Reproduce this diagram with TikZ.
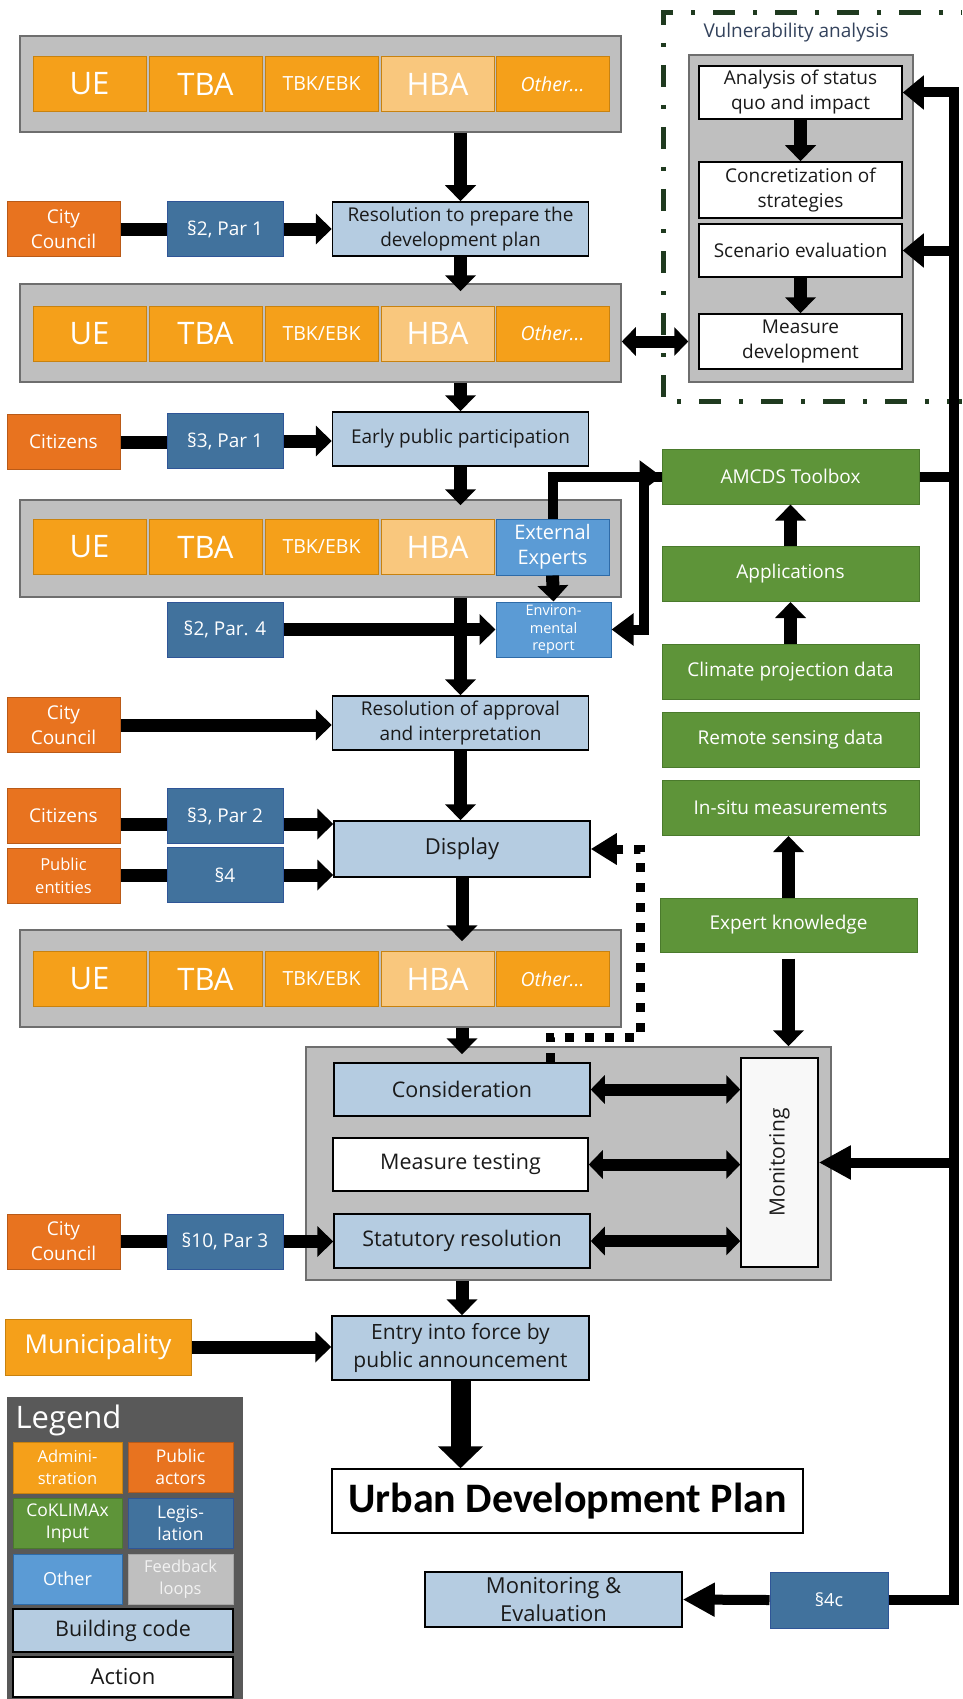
\documentclass[tikz,border=0pt]{standalone}
\usepackage{fontspec}
\setmainfont{Open Sans}
\newfontfamily\calib{Carlito}
\usetikzlibrary{arrows.meta,calc}
\newcommand{\myfs}[2]{\fontsize{#1}{#2}\selectfont}
\definecolor{admC}{HTML}{F5A01A}
\definecolor{admD}{HTML}{C8820F}
\definecolor{hbaC}{HTML}{F9C77D}
\definecolor{pubC}{HTML}{E8731F}
\definecolor{pubD}{HTML}{B95A18}
\definecolor{legC}{HTML}{41729D}
\definecolor{legD}{HTML}{2F5597}
\definecolor{othC}{HTML}{5B9BD5}
\definecolor{othD}{HTML}{2E6BA8}
\definecolor{grnC}{HTML}{5E9439}
\definecolor{grnD}{HTML}{4A7A2C}
\definecolor{bcC}{HTML}{B5CCE1}
\definecolor{grpC}{HTML}{BFBFBF}
\definecolor{grpD}{HTML}{6E6E6E}
\definecolor{lgdC}{HTML}{595959}
\definecolor{vulC}{HTML}{1F3A1F}
\definecolor{vtxt}{HTML}{33425C}
\definecolor{txt}{HTML}{1A1A1A}
\tikzset{
 base/.style={rectangle, inner sep=0pt, align=center, line width=1pt},
 adm/.style={base, fill=admC, draw=admD, text=white, minimum width=113pt, minimum height=55pt},
 hba/.style={adm, fill=hbaC},
 pubact/.style={base, fill=pubC, draw=pubD, text=white, minimum width=113pt, minimum height=55pt, font=\myfs{19}{25}},
 legis/.style={base, fill=legC, draw=legD, text=white, minimum width=116pt, minimum height=55pt, font=\myfs{19}{24}},
 bcode/.style={base, fill=bcC, draw=black, line width=1.5pt, text=txt, minimum width=256pt, minimum height=54pt, font=\myfs{19}{25}},
 action/.style={base, fill=white, draw=black, line width=1.5pt, text=txt},
 grn/.style={base, fill=grnC, draw=grnD, text=white, minimum width=257pt, minimum height=55pt, font=\myfs{19}{24}},
 othr/.style={base, fill=othC, draw=othD, text=white},
 grp/.style={base, fill=grpC, draw=grpD, line width=1.5pt},
 arr/.style={line width=13pt, -{Triangle[length=16pt,width=30pt]}},
 ln/.style={line width=13pt},
 dbl/.style={line width=12pt, {Triangle[length=14pt,width=28pt]}-{Triangle[length=14pt,width=28pt]}},
 fbl/.style={line width=10pt},
 fbarr/.style={line width=10pt, line join=miter, -{Triangle[length=21pt,width=33pt]}},
 bigarr/.style={line width=10pt, -{Triangle[length=32pt,width=32pt]}},
 thinarr/.style={line width=10pt, line join=miter, -{Triangle[length=22pt,width=31pt]}},
 dotarr/.style={line width=9pt, dash pattern=on 9pt off 11pt, -{Triangle[length=26pt,width=30pt]}},
}
\newcommand{\admrow}[2]{%
 \node[adm, font=\myfs{31}{36}] (#1a) at (89.5,#2) {UE};
 \node[adm, font=\myfs{31}{36}] (#1b) at (205.5,#2) {TBA};
 \node[adm, font=\myfs{19.5}{24}] (#1c) at (321.5,#2) {TBK/EBK};
 \node[hba, font=\myfs{31}{36}] (#1d) at (437.5,#2) {HBA};
}
\begin{document}
\begin{tikzpicture}[x=1pt,y=-1pt]
\useasboundingbox (0,0) rectangle (962,1699);
% vulnerability frame
\draw[vulC, line width=5pt, dash pattern=on 22pt off 18pt on 4pt off 18pt, dash phase=21pt] (962,13) -- (663,13) -- (663,401) -- (962,401);
\node[anchor=west, font=\myfs{19}{24}, text=vtxt] (vt) at (700,33) {Vulnerability analysis};
\node[grp, minimum width=224pt, minimum height=327pt] (vg) at (801,218.5) {};
\node[action, minimum width=203pt, minimum height=53pt, font=\myfs{19}{25}] (ana) at (800.5,92.5) {Analysis of status\\quo and impact};
\node[action, minimum width=203pt, minimum height=56pt, font=\myfs{19}{25}] (conc) at (800.5,190) {Concretization of\\strategies};
\node[action, minimum width=203pt, minimum height=53pt, font=\myfs{19}{25}] (scen) at (800.5,250.5) {Scenario evaluation};
\node[action, minimum width=203pt, minimum height=55pt, font=\myfs{19}{25}] (meas) at (800.5,341.5) {Measure\\development};
% admin groups
\node[grp, minimum width=601pt, minimum height=96pt] (g1) at (320.5,84) {};
\node[grp, minimum width=601pt, minimum height=98pt] (g2) at (320.5,333) {};
\node[grp, minimum width=601pt, minimum height=97pt] (g3) at (320.5,548.5) {};
\node[grp, minimum width=601pt, minimum height=97pt] (g4) at (320.5,978.5) {};
\admrow{ra}{84}
\node[adm, font=\myfs{19.5}{24}\itshape] (rae) at (552.5,84) {Other...};
\admrow{rb}{333.5}
\node[adm, font=\myfs{19.5}{24}\itshape] (rbe) at (552.5,333.5) {Other...};
\admrow{rc}{547}
\node[othr, minimum width=113pt, minimum height=56pt, font=\myfs{20}{25}] (ext) at (552.5,547) {External\\Experts};
\admrow{rd}{979}
\node[adm, font=\myfs{19.5}{24}\itshape] (rde) at (552.5,979) {Other...};
% public actors
\node[pubact] (cc1) at (63.5,229) {City\\Council};
\node[pubact] (cit1) at (63.5,442) {Citizens};
\node[pubact] (cc2) at (63.5,725) {City\\Council};
\node[pubact] (cit2) at (63.5,816) {Citizens};
\node[pubact, font=\myfs{16.5}{23}] (pe) at (63.5,875.5) {Public\\entities};
\node[pubact] (cc3) at (63.5,1241.5) {City\\Council};
\node[adm, minimum width=186pt, minimum height=56pt, font=\myfs{26}{30}] (muni) at (98,1347) {Municipality};
% legislation
\node[legis] (l1) at (225,229) {§2, Par 1};
\node[legis] (l2) at (225,441) {§3, Par 1};
\node[legis] (l3) at (225,629.5) {§2, Par. 4};
\node[legis] (l4) at (225,816) {§3, Par 2};
\node[legis] (l5) at (225,875) {§4};
\node[legis] (l6) at (225,1241.5) {§10, Par 3};
\node[legis, minimum width=118pt, minimum height=56pt, font=\myfs{18}{22}] (l7) at (829,1600) {§4c};
% building code steps
\node[bcode] (res1) at (460.5,229) {Resolution to prepare the\\development plan};
\node[bcode] (epp) at (460.5,439) {Early public participation};
\node[bcode] (roa) at (460.5,723) {Resolution of approval\\and interpretation};
\node[bcode, minimum height=56pt, font=\myfs{22}{27}] (disp) at (462,849) {Display};
\node[grp, minimum width=525pt, minimum height=233pt] (bg) at (568.5,1163.5) {};
\node[bcode, minimum height=53pt, font=\myfs{21.5}{27}] (cons) at (462,1089.5) {Consideration};
\node[action, minimum width=255pt, minimum height=53pt, font=\myfs{21.5}{27}] (mtest) at (460.5,1164.5) {Measure testing};
\node[bcode, font=\myfs{21.5}{27}] (stat) at (462,1241) {Statutory resolution};
\node[action, fill={rgb,255:red,248;green,248;blue,248}, minimum width=77pt, minimum height=209pt] (mon) at (779.5,1162.5) {};
\node[rotate=90, font=\myfs{21}{25}, text=txt] (monlab) at (mon.center) {Monitoring};
\node[bcode, minimum width=257pt, minimum height=64pt, font=\myfs{21}{28}] (entry) at (460.5,1348) {Entry into force by\\public announcement};
\node[action, minimum width=471pt, minimum height=64pt, font=\calib\bfseries\myfs{42}{48}, text=black] (udp) at (567.5,1501) {Urban Development Plan};
\node[bcode, minimum width=257pt, minimum height=55pt, font=\myfs{22}{28}] (me) at (553.5,1599.5) {Monitoring \&\\Evaluation};
% other
\node[othr, minimum width=115pt, minimum height=55pt, font=\myfs{14.5}{17.5}] (envrep) at (553.5,629.5) {Environ-\\mental\\report};
% green
\node[grn] (amcds) at (790.5,476.5) {AMCDS Toolbox};
\node[grn] (apps) at (790.5,574) {Applications};
\node[grn] (clim) at (790.5,672) {Climate projection data};
\node[grn] (rem) at (790.5,740) {Remote sensing data};
\node[grn] (insitu) at (790.5,808) {In-situ measurements};
\node[grn, minimum height=54pt] (expert) at (788.5,925) {Expert knowledge};
% legend
\node[base, fill=lgdC, minimum width=236pt, minimum height=302pt] (lgd) at (125,1548) {};
\node[anchor=west, text=white, font=\myfs{31}{36}] (lgdt) at (12,1420) {Legend};
\node[adm, minimum width=109pt, minimum height=51pt, font=\myfs{16.5}{22}] (la) at (67.5,1467.5) {Admini-\\stration};
\node[pubact, minimum width=105pt, minimum height=50pt, font=\myfs{17.5}{22}] (lb) at (180.5,1467) {Public\\actors};
\node[grn, minimum width=109pt, minimum height=50pt, font=\myfs{17.5}{22}] (lc) at (67.5,1523) {CoKLIMAx\\Input};
\node[legis, minimum width=105pt, minimum height=50pt, font=\myfs{17.5}{22}] (ld) at (180.5,1523) {Legis-\\lation};
\node[othr, minimum width=109pt, minimum height=50pt, font=\myfs{18}{22}] (le) at (67.5,1579) {Other};
\node[base, fill=grpC, draw={rgb,255:red,166;green,166;blue,166}, text={rgb,255:red,242;green,242;blue,242}, minimum width=105pt, minimum height=50pt, font=\myfs{16.5}{22}] (lf) at (180.5,1579) {Feedback\\loops};
\node[bcode, minimum width=220pt, minimum height=43pt, font=\myfs{21.5}{26}] (lg) at (123,1630.5) {Building code};
\node[action, minimum width=220pt, minimum height=40pt, font=\myfs{22}{26}] (lh) at (123,1677) {Action};
% main column
\draw[arr] (res1.north |- g1.south) -- (res1.north);
\draw[arr] (res1.south) -- ($(res1.south |- g2.north)+(0,8)$);
\draw[arr] (epp.north |- g2.south) -- (epp.north);
\draw[arr] (epp.south) -- ($(epp.south |- g3.north)+(0,6)$);
\draw[arr] (roa.north |- g3.south) -- (roa.north);
\draw[arr] (roa.south) -- (roa.south |- disp.north);
\draw[arr] (disp.south) -- ($(disp.south |- g4.north)+(0,12)$);
\draw[arr] (disp.south |- g4.south) -- ($(disp.south |- bg.north)+(0,8)$);
\draw[arr] (stat.south |- bg.south) -- (stat.south |- entry.north);
\draw[line width=20pt, -{Triangle[length=22pt,width=44pt]}] (entry.south) -- (entry.south |- udp.north);
% inputs
\draw[ln] (cc1.east) -- (l1.west);
\draw[arr] (l1.east) -- (res1.west);
\draw[ln] (cit1.east) -- (cit1.east -| l2.west);
\draw[arr] (l2.east) -- (l2.east -| epp.west);
\draw[arr] (l3.east) -- (envrep.west);
\draw[arr] (cc2.east) -- (cc2.east -| roa.west);
\draw[ln] ($(cit2.east)+(0,8)$) -- ($(cit2.east -| l4.west)+(0,8)$);
\draw[arr] ($(l4.east)+(0,8)$) -- ($(l4.east -| disp.west)+(0,8)$);
\draw[ln] (pe.east) -- (pe.east -| l5.west);
\draw[arr] (l5.east) -- (l5.east -| disp.west);
\draw[ln] (cc3.east) -- (cc3.east -| l6.west);
\draw[arr] (l6.east) -- (l6.east -| stat.west);
\draw[arr] (muni.east) -- (muni.east -| entry.west);
% vulnerability
\draw[dbl] (g2.east |- meas.west) -- (vg.west |- meas.west);
\draw[arr] (ana.south) -- (conc.north);
\draw[arr] (scen.south) -- (meas.north);
% green chain
\draw[arr] (apps.north) -- (amcds.south);
\draw[arr] (clim.north) -- (apps.south);
\draw[arr] (expert.north) -- (expert.north |- insitu.south);
\draw[arr] ($(expert.south)+(0,6)$) -- (expert.south |- bg.north);
% experts and report
\draw[arr] (ext.south) -- (envrep.north);
\draw[thinarr] (ext.north) |- (amcds.west);
\draw[thinarr] (amcds.west) -- ++(-18,0) |- (envrep.east);
% feedback line
\coordinate (fbt) at (954,92.5);
\coordinate (fbb) at (954,1600);
\draw[fbarr] (l7.east) -- (fbb) -- (fbt) -- (ana.east);
\draw[fbarr] (scen.east -| fbt) -- (scen.east);
\draw[fbl] (amcds.east) -- (amcds.east -| fbt);
\draw[bigarr] (mon.east -| fbt) -- (mon.east);
\draw[bigarr] (l7.west) -- (me.east);
% monitoring links
\draw[dbl] (cons.east) -- (cons.east -| mon.west);
\draw[dbl] (mtest.east) -- (mtest.east -| mon.west);
\draw[dbl] (stat.east) -- (stat.east -| mon.west);
% dotted feedback
\coordinate (d1) at (550,1037);
\coordinate (d2) at (640,1037);
\coordinate (d3) at (640,849);
\draw[dotarr] (cons.north -| d1) -- (d1) -- (d2) -- (d3) -- (disp.east);
\end{tikzpicture}
\end{document}
